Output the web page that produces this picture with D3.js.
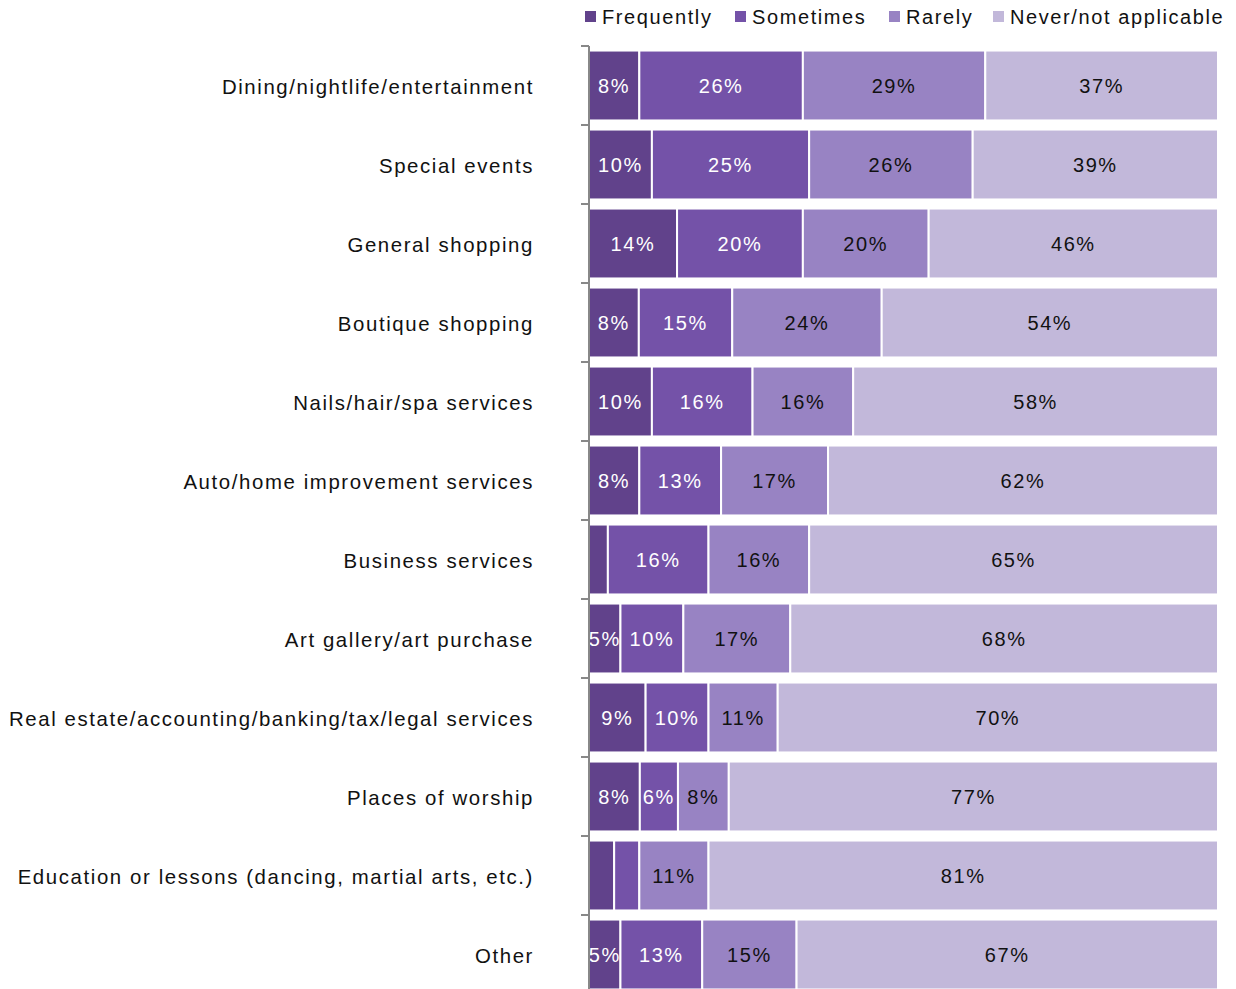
<!DOCTYPE html>
<html>
<head>
<meta charset="utf-8">
<script src="https://cdn.jsdelivr.net/npm/d3@7"></script>
<style>
  body { margin: 0; background: #fff; }
  svg text { font-family: "Liberation Sans", Arial, sans-serif; letter-spacing: 1.6px; }
</style>
</head>
<body>
<svg id="chart" width="1236" height="989"></svg>
<script>
var categories = [
  "Dining/nightlife/entertainment",
  "Special events",
  "General shopping",
  "Boutique shopping",
  "Nails/hair/spa services",
  "Auto/home improvement services",
  "Business services",
  "Art gallery/art purchase",
  "Real estate/accounting/banking/tax/legal services",
  "Places of worship",
  "Education or lessons (dancing, martial arts, etc.)",
  "Other"
];
var seriesNames = ["Frequently", "Sometimes", "Rarely", "Never/not applicable"];
var frequently = [8, 10, 14, 8, 10, 8, 3, 5, 9, 8, 4, 5];
var sometimes  = [26, 25, 20, 15, 16, 13, 16, 10, 10, 6, 4, 13];
var rarely     = [29, 26, 20, 24, 16, 17, 16, 17, 11, 8, 11, 15];
var never      = [37, 39, 46, 54, 58, 62, 65, 68, 70, 77, 81, 67];
var colors = ["#61428b", "#7452a8", "#9883c3", "#c2b8da"];
var labelColors = ["#fff", "#fff", "#111", "#111"];

var svg = d3.select("#chart");
var plotLeft = 589, plotRight = 1218, plotTop = 46, band = 79;

var rows = categories.map(function(c, i) {
  return {cat: c, values: [frequently[i], sometimes[i], rarely[i], never[i]]};
});
// 100% stacked: each row is scaled to fill the full width
var stack = d3.stack().keys([0, 1, 2, 3])
  .value(function(d, k) { return d.values[k]; })
  .offset(d3.stackOffsetExpand);
var layers = stack(rows);

var x = d3.scaleLinear().domain([0, 1]).range([plotLeft, plotRight]);
var y = d3.scaleBand().domain(categories).range([plotTop, plotTop + band * categories.length])
  .paddingInner(0.115).paddingOuter(0.0575);

// bars
layers.forEach(function(layer, k) {
  var g = svg.append("g");
  g.selectAll("rect").data(layer).enter().append("rect")
    .attr("x", function(d) { return x(d[0]); })
    .attr("y", function(d) { return y(d.data.cat); })
    .attr("width", function(d) { return x(d[1]) - x(d[0]); })
    .attr("height", y.bandwidth())
    .attr("fill", colors[k])
    .attr("stroke", "#fff")
    .attr("stroke-width", 2);
  // small segments get no label
  g.selectAll("text").data(layer.filter(function(d) { return d.data.values[k] >= 5; }))
    .enter().append("text")
    .attr("x", function(d) { return (x(d[0]) + x(d[1])) / 2; })
    .attr("y", function(d) { return y(d.data.cat) + y.bandwidth() / 2; })
    .attr("dy", "0.36em")
    .attr("text-anchor", "middle")
    .attr("font-size", 20)
    .attr("fill", labelColors[k])
    .text(function(d) { return d.data.values[k] + "%"; });
});

// axis on the left: category boundary ticks
var axisG = svg.append("g");
axisG.append("line")
  .attr("x1", plotLeft).attr("x2", plotLeft)
  .attr("y1", plotTop).attr("y2", plotTop + band * categories.length)
  .attr("stroke", "#888").attr("stroke-width", 2);
d3.range(categories.length + 1).forEach(function(i) {
  axisG.append("line")
    .attr("x1", plotLeft - 8).attr("x2", plotLeft)
    .attr("y1", plotTop + i * band).attr("y2", plotTop + i * band)
    .attr("stroke", "#888").attr("stroke-width", 2);
});
svg.append("g").selectAll("text").data(categories).enter().append("text")
  .attr("x", 534)
  .attr("y", function(d) { return y(d) + y.bandwidth() / 2 + 1; })
  .attr("dy", "0.36em")
  .attr("text-anchor", "end")
  .attr("font-size", 20.4)
  .attr("fill", "#111")
  .text(function(d) { return d; });

// legend
var legendX = [585, 735, 889, 993];
var lg = svg.append("g");
seriesNames.forEach(function(name, k) {
  lg.append("rect").attr("x", legendX[k]).attr("y", 11).attr("width", 11).attr("height", 11)
    .attr("fill", colors[k]);
  lg.append("text").attr("x", legendX[k] + 17).attr("y", 24)
    .attr("font-size", 20).attr("fill", "#111").text(name);
});
</script>
</body>
</html>
